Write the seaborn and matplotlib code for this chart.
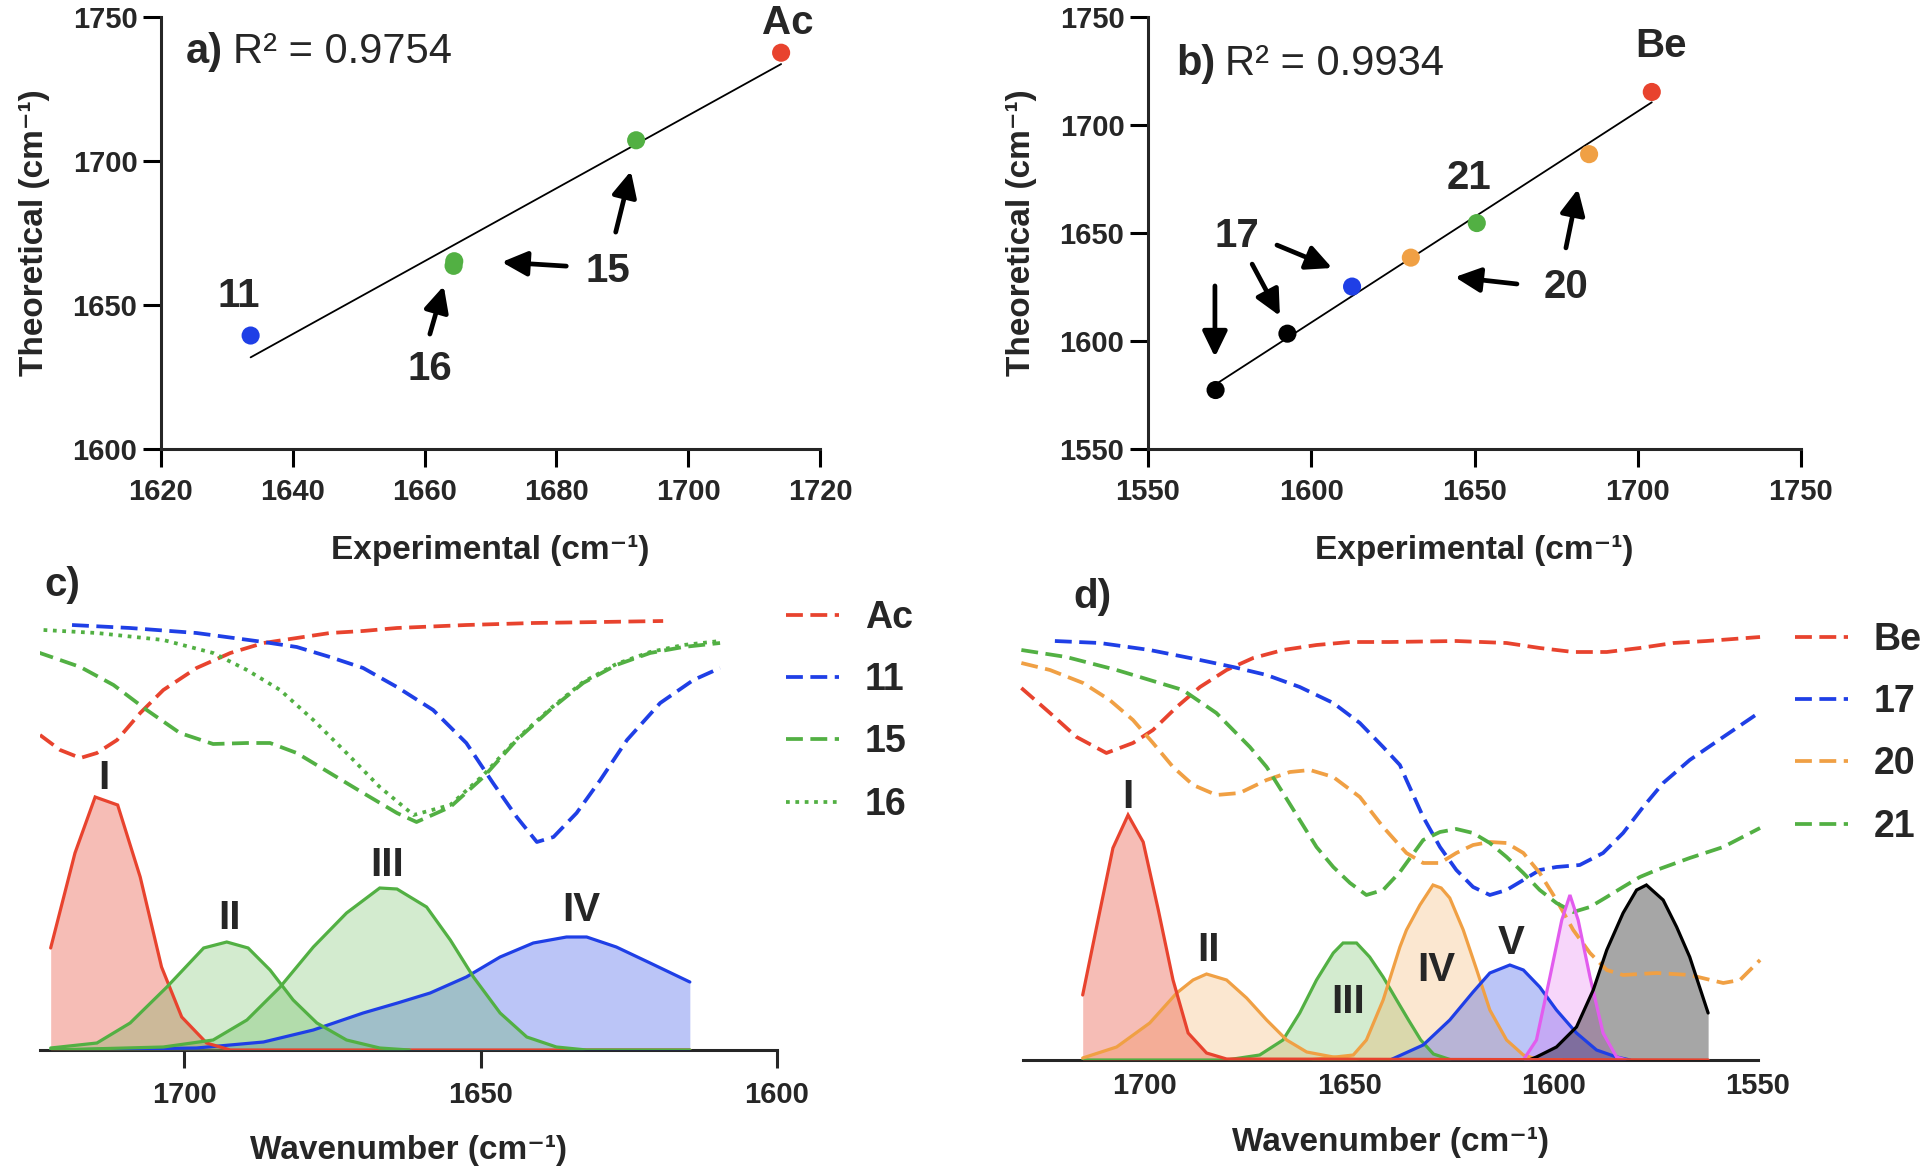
"""
IR carbonyl band assignment: theoretical vs experimental + deconvoluted spectra
"""
import numpy as np, matplotlib
matplotlib.use('Agg')
import matplotlib.pyplot as plt
import seaborn as sns

sns.set_theme(style='ticks')
plt.rcParams['font.family'] = ['Liberation Sans', 'DejaVu Sans']
plt.rcParams['font.weight'] = 'bold'
plt.rcParams['axes.labelweight'] = 'bold'

RED, BLUE, GREEN = '#E8432E', '#1F3FE6', '#52B043'
ORANGE, MAGENTA, BLACK = '#F0A044', '#E25CEE', '#000000'

# ── data: panel a (experimental vs theoretical) ──────────────────
A_NAMES = ['11', '16', '15b', '15a', 'Ac']
A_EXP   = [1633.6, 1664.4, 1664.5, 1692.1, 1714.1]
A_THEO  = [1639.4, 1663.6, 1665.2, 1707.2, 1737.6]
A_COLORS = [BLUE, GREEN, GREEN, GREEN, RED]

# ── data: panel b ────────────────────────────────────────────────
B_NAMES = ['17c', '17b', '17a', '20b', '21', '20a', 'Be']
B_EXP   = [1570.7, 1592.7, 1612.5, 1630.5, 1650.7, 1685.1, 1704.3]
B_THEO  = [1577.3, 1603.4, 1625.2, 1638.6, 1654.6, 1686.5, 1715.3]
B_COLORS = [BLACK, BLACK, BLUE, ORANGE, GREEN, ORANGE, RED]

# ── data: panel c, deconvoluted bands ────────────────────────────
C_I_X   = [1722.5, 1718.4, 1715.0, 1711.2, 1707.4, 1703.8, 1700.4, 1696.2, 1692.2, 1614.7]
C_I_Y   = [1.02, 1.97, 2.53, 2.45, 1.73, 0.83, 0.33, 0.07, 0.0, 0.0]
C_II_X  = [1722.5, 1714.7, 1709.1, 1702.9, 1696.7, 1692.8, 1689.2, 1685.5, 1681.6, 1677.6,
           1672.6, 1667.0, 1662.0]
C_II_Y  = [0.02, 0.07, 0.27, 0.63, 1.02, 1.08, 1.02, 0.80, 0.50, 0.27, 0.10, 0.02, 0.0]
C_III_X = [1722.5, 1703.5, 1695.1, 1689.4, 1683.8, 1678.2, 1672.6, 1667.0, 1664.1, 1659.1,
           1655.1, 1651.2, 1646.7, 1642.2, 1637.2, 1632.1, 1614.7]
C_III_Y = [0.0, 0.03, 0.10, 0.30, 0.63, 1.03, 1.37, 1.62, 1.61, 1.43, 1.10, 0.73, 0.37,
           0.13, 0.03, 0.0, 0.0]
C_IV_X  = [1722.5, 1697.9, 1686.6, 1678.2, 1669.8, 1664.0, 1658.5, 1652.4, 1646.7, 1641.1,
           1635.5, 1632.1, 1627.1, 1621.4, 1614.7]
C_IV_Y  = [0.0, 0.02, 0.08, 0.20, 0.37, 0.47, 0.57, 0.73, 0.93, 1.07, 1.13, 1.13, 1.03,
           0.87, 0.68]

# panel c, spectra (offset)
AC_X  = [1724.3, 1720.9, 1717.5, 1714.7, 1711.3, 1707.4, 1703.5, 1697.9, 1692.2, 1686.6,
         1681.0, 1675.4, 1669.8, 1664.1, 1652.4, 1641.1, 1629.8, 1619.2]
AC_Y  = [3.15, 3.00, 2.92, 2.97, 3.10, 3.37, 3.60, 3.82, 3.97, 4.07, 4.12, 4.17, 4.19, 4.22,
         4.25, 4.27, 4.28, 4.29]
S11_X = [1718.9, 1709.1, 1697.9, 1686.6, 1681.0, 1675.4, 1669.8, 1664.1, 1658.0, 1652.4,
         1647.9, 1643.9, 1640.5, 1637.7, 1633.8, 1629.8, 1625.3, 1619.7, 1614.1, 1609.6]
S11_Y = [4.25, 4.22, 4.17, 4.08, 4.03, 3.93, 3.82, 3.63, 3.40, 3.07, 2.67, 2.33, 2.08, 2.13,
         2.37, 2.70, 3.10, 3.47, 3.70, 3.82]
S15_X = [1724.8, 1717.5, 1711.9, 1706.3, 1700.7, 1695.1, 1689.4, 1685.5, 1681.0, 1675.4,
         1669.8, 1664.1, 1660.8, 1655.1, 1649.5, 1643.9, 1638.3, 1632.7, 1627.1, 1621.4,
         1615.8, 1609.6]
S15_Y = [3.98, 3.83, 3.65, 3.40, 3.17, 3.06, 3.07, 3.07, 2.97, 2.77, 2.57, 2.37, 2.28, 2.43,
         2.73, 3.10, 3.40, 3.67, 3.85, 3.97, 4.03, 4.07]
S16_X = [1723.7, 1714.7, 1703.5, 1695.1, 1689.4, 1683.8, 1678.2, 1672.6, 1667.0, 1661.3,
         1655.1, 1649.5, 1643.9, 1638.3, 1632.7, 1627.1, 1621.4, 1615.8, 1609.6]
S16_Y = [4.20, 4.17, 4.10, 3.97, 3.80, 3.60, 3.30, 2.97, 2.63, 2.35, 2.45, 2.75, 3.11, 3.41,
         3.68, 3.86, 3.98, 4.05, 4.09]

# ── data: panel d, deconvoluted bands ────────────────────────────
D_I_X   = [1715.2, 1711.8, 1707.8, 1704.1, 1700.4, 1696.7, 1693.1, 1689.4, 1684.9, 1680.0, 1562.2]
D_I_Y   = [0.65, 1.33, 2.12, 2.45, 2.18, 1.50, 0.80, 0.27, 0.07, 0.01, 0.0]
D_II_X  = [1715.2, 1706.9, 1698.8, 1692.2, 1688.2, 1684.9, 1680.0, 1675.1, 1670.2, 1665.3,
           1660.4, 1653.9, 1647.4]
D_II_Y  = [0.02, 0.13, 0.37, 0.67, 0.80, 0.86, 0.80, 0.62, 0.40, 0.20, 0.08, 0.03, 0.0]
D_III_X = [1715.2, 1680.0, 1671.9, 1666.2, 1662.1, 1658.0, 1653.9, 1651.5, 1648.2, 1645.0,
           1641.7, 1638.4, 1635.5, 1632.5, 1629.4, 1625.0]
D_III_Y = [0.0, 0.0, 0.05, 0.20, 0.47, 0.80, 1.07, 1.17, 1.17, 1.03, 0.83, 0.60, 0.40, 0.20,
           0.06, 0.0]
D_IV_X  = [1660.0, 1649.0, 1645.8, 1641.7, 1637.6, 1636.0, 1632.7, 1629.5, 1627.5, 1625.4,
           1622.1, 1618.8, 1615.6, 1611.5, 1607.4, 1603.4, 1598.0]
D_IV_Y  = [0.0, 0.05, 0.20, 0.60, 1.13, 1.30, 1.55, 1.75, 1.72, 1.62, 1.30, 0.90, 0.50, 0.20,
           0.05, 0.0, 0.0]
D_V_X   = [1640.0, 1631.9, 1625.4, 1619.7, 1615.6, 1610.7, 1607.4, 1603.4, 1599.3, 1594.4,
           1589.5, 1584.6, 1581.3]
D_V_Y   = [0.0, 0.15, 0.40, 0.68, 0.87, 0.95, 0.90, 0.73, 0.50, 0.27, 0.10, 0.03, 0.0]
D_VI_X  = [1607.4, 1604.2, 1600.9, 1598.0, 1596.0, 1594.0, 1591.1, 1587.9, 1584.6, 1582.2]
D_VI_Y  = [0.0, 0.20, 0.83, 1.40, 1.65, 1.40, 0.83, 0.27, 0.03, 0.0]
D_VII_X = [1606.0, 1604.2, 1599.3, 1594.4, 1590.3, 1587.0, 1583.0, 1579.7, 1577.3, 1573.2,
           1569.9, 1566.7, 1562.2]
D_VII_Y = [0.0, 0.03, 0.13, 0.33, 0.70, 1.10, 1.47, 1.70, 1.75, 1.60, 1.33, 1.03, 0.47]

# panel d, spectra (offset)
BE_X  = [1730.2, 1723.2, 1716.7, 1709.4, 1702.9, 1698.0, 1692.2, 1686.5, 1680.0, 1673.5,
         1666.2, 1658.0, 1649.8, 1640.1, 1623.8, 1611.5, 1603.4, 1595.2, 1587.0, 1578.9,
         1570.7, 1562.6, 1549.5]
BE_Y  = [3.72, 3.47, 3.23, 3.07, 3.17, 3.30, 3.53, 3.73, 3.90, 4.02, 4.10, 4.15, 4.18, 4.18,
         4.19, 4.17, 4.12, 4.08, 4.08, 4.12, 4.17, 4.19, 4.23]
S17_X = [1722.0, 1711.0, 1698.8, 1686.5, 1678.4, 1670.2, 1662.1, 1653.9, 1647.4, 1641.7,
         1637.6, 1636.0, 1631.9, 1627.8, 1623.8, 1619.7, 1615.6, 1611.5, 1607.4, 1603.4,
         1599.3, 1593.6, 1587.9, 1583.0, 1578.1, 1573.2, 1566.7, 1558.5, 1549.5]
S17_Y = [4.19, 4.17, 4.10, 4.00, 3.93, 3.85, 3.73, 3.57, 3.37, 3.13, 2.95, 2.80, 2.43, 2.13,
         1.90, 1.73, 1.65, 1.70, 1.80, 1.90, 1.93, 1.95, 2.07, 2.27, 2.53, 2.77, 3.00, 3.23, 3.48]
S20_X = [1730.2, 1723.2, 1715.1, 1708.6, 1702.9, 1698.0, 1693.1, 1688.2, 1682.5, 1676.8,
         1670.2, 1664.5, 1659.6, 1653.9, 1647.4, 1641.7, 1636.0, 1631.9, 1627.8, 1623.8,
         1619.7, 1615.6, 1611.5, 1607.4, 1603.4, 1599.3, 1595.2, 1591.1, 1587.0, 1583.0,
         1574.8, 1566.7, 1558.5, 1554.4, 1549.5]
S20_Y = [3.97, 3.90, 3.77, 3.60, 3.40, 3.17, 2.93, 2.75, 2.65, 2.67, 2.80, 2.88, 2.90, 2.83,
         2.63, 2.33, 2.07, 1.97, 1.97, 2.07, 2.15, 2.18, 2.17, 2.07, 1.87, 1.60, 1.30, 1.07,
         0.90, 0.85, 0.87, 0.85, 0.77, 0.80, 1.00]
S21_X = [1730.2, 1719.2, 1706.9, 1698.8, 1690.7, 1682.5, 1674.3, 1670.2, 1666.2, 1662.1,
         1658.0, 1653.9, 1649.8, 1645.8, 1641.7, 1637.6, 1631.9, 1627.8, 1623.8, 1619.7,
         1615.6, 1611.5, 1607.4, 1603.4, 1599.3, 1595.2, 1591.1, 1587.0, 1583.0, 1578.9,
         1574.8, 1566.7, 1558.5, 1549.5]
S21_Y = [4.10, 4.03, 3.90, 3.80, 3.70, 3.47, 3.13, 2.93, 2.67, 2.40, 2.13, 1.93, 1.77, 1.65,
         1.70, 1.88, 2.20, 2.28, 2.31, 2.27, 2.17, 2.03, 1.87, 1.70, 1.57, 1.48, 1.53, 1.63,
         1.73, 1.83, 1.90, 2.02, 2.13, 2.32]

DASH = (0, (4.5, 2))
DOT = (0, (1, 1.5))
SPEC_LW = 2.7
SPINE_W = 2.2
TICK_FS = 21

fig = plt.figure(figsize=(19.2, 11.76), dpi=100)
W, H = 1920., 1176.
def box(l, t, r, b):  # pixel box -> figure fraction
    return [l/W, 1-b/H, (r-l)/W, (b-t)/H]

ax_a = fig.add_axes(box(161, 17, 820, 449))
ax_b = fig.add_axes(box(1148, 17, 1801, 449))
ax_c = fig.add_axes(box(40, 600, 777, 1050))
ax_d = fig.add_axes(box(1023, 610, 1758, 1060))

# ── 1. correlation panels ────────────────────────────────────────
def corr_panel(ax, xs, ys, names, colors, xlim, ylim, xt, yt):
    sns.regplot(x=xs, y=ys, ax=ax, scatter=False, ci=None, truncate=True,
                color='black', line_kws={'lw': 1.3})
    sns.scatterplot(x=xs, y=ys, hue=names, palette=dict(zip(names, colors)),
                    s=170, linewidth=0, legend=False, ax=ax, zorder=3, clip_on=False)
    ax.set_xlim(xlim); ax.set_ylim(ylim)
    ax.set_xticks(xt); ax.set_yticks(yt)
    sns.despine(ax=ax)
    for s in ('left', 'bottom'): ax.spines[s].set_linewidth(SPINE_W)
    ax.tick_params(length=13, width=SPINE_W, labelsize=TICK_FS, color='black')
    ax.tick_params(axis='x', pad=8); ax.tick_params(axis='y', pad=4)
    ax.set_xlabel('Experimental (cm⁻¹)', fontsize=24, labelpad=21)
    ax.set_ylabel('Theoretical (cm⁻¹)', fontsize=24, labelpad=16)

corr_panel(ax_a, A_EXP, A_THEO, A_NAMES, A_COLORS, (1620, 1720), (1600, 1750),
           range(1620, 1721, 20), range(1600, 1751, 50))
corr_panel(ax_b, B_EXP, B_THEO, B_NAMES, B_COLORS, (1550, 1750), (1550, 1750),
           range(1550, 1751, 50), range(1550, 1751, 50))

ax_a.text(1623.8, 1737.8, 'a)', fontsize=30, va='center', ha='left')
ax_a.text(1631.0, 1737.8, 'R² = 0.9754', fontsize=30, fontweight='normal', va='center', ha='left')
ax_b.text(1558.6, 1728.2, 'b)', fontsize=30, va='center', ha='left')
ax_b.text(1573.6, 1728.2, 'R² = 0.9934', fontsize=30, fontweight='normal', va='center', ha='left')

arrow_kw = dict(arrowstyle='-|>,head_length=0.7,head_width=0.34', lw=3.4, color='black',
                mutation_scale=22, shrinkA=0, shrinkB=0)
for (tx, ty), (hx, hy) in [((1681.5, 1663.5), (1671.7, 1664.9)),
                           ((1689.0, 1675.3), (1691.3, 1696.5)),
                           ((1660.8, 1639.9), (1662.9, 1656.6))]:
    ax_a.annotate('', xy=(hx, hy), xytext=(tx, ty), arrowprops=arrow_kw)
for lab, (x, y) in [('Ac', (1715.1, 1747.9)), ('11', (1631.8, 1653.1)),
                    ('15', (1687.8, 1661.8)), ('16', (1660.8, 1627.8))]:
    ax_a.text(x, y, lab, fontsize=29, ha='center', va='center', clip_on=False)

for (tx, ty), (hx, hy) in [((1570.5, 1625.5), (1570.5, 1592.6)),
                           ((1581.9, 1635.6), (1590.4, 1611.6)),
                           ((1589.5, 1644.4), (1606.4, 1633.8)),
                           ((1663.0, 1626.4), (1644.0, 1629.6)),
                           ((1678.0, 1643.1), (1681.7, 1670.4))]:
    ax_b.annotate('', xy=(hx, hy), xytext=(tx, ty), arrowprops=arrow_kw)
for lab, (x, y) in [('Be', (1707.1, 1736.6)), ('21', (1648.3, 1675.5)),
                    ('17', (1577.3, 1648.6)), ('20', (1678.0, 1625.0))]:
    ax_b.text(x, y, lab, fontsize=29, ha='center', va='center')

# ── 2. spectra panels ────────────────────────────────────────────
def band(ax, xs, ys, color, alpha=0.3, lw=2.3):
    ax.fill_between(xs, 0, ys, color=color, alpha=alpha, lw=0, zorder=2)
    ax.plot(xs, ys, color=color, lw=lw, zorder=3, solid_joinstyle='miter')

def spectrum_axes(ax, xlim, xt, ticklen):
    ax.set_xlim(xlim); ax.set_ylim(0, 4.5)
    ax.set_xticks(xt); ax.set_yticks([])
    sns.despine(ax=ax, left=True)
    ax.spines['bottom'].set_linewidth(SPINE_W)
    ax.spines['bottom'].set_zorder(1)
    ax.tick_params(axis='x', length=ticklen, width=SPINE_W, labelsize=TICK_FS, pad=9)
    ax.set_xlabel('Wavenumber (cm⁻¹)', fontsize=24, labelpad=19)
    ax.patch.set_alpha(0)

def legend(ax, handles, x, top):
    ax.legend(handles=handles, loc='upper left', bbox_to_anchor=(x/W, 1-top/H),
              bbox_transform=fig.transFigure, frameon=False, borderpad=0, borderaxespad=0,
              handlelength=1.4, handletextpad=0.7, labelspacing=0.7, fontsize=27)

# c)
band(ax_c, C_IV_X, C_IV_Y, BLUE, alpha=0.3)
band(ax_c, C_I_X, C_I_Y, RED, alpha=0.35)
band(ax_c, C_II_X, C_II_Y, GREEN, alpha=0.25)
band(ax_c, C_III_X, C_III_Y, GREEN, alpha=0.25)
c_lines = [ax_c.plot(AC_X, AC_Y, color=RED, lw=SPEC_LW, ls=DASH, label='Ac')[0],
           ax_c.plot(S11_X, S11_Y, color=BLUE, lw=SPEC_LW, ls=DASH, label='11')[0],
           ax_c.plot(S15_X, S15_Y, color=GREEN, lw=SPEC_LW, ls=DASH, label='15')[0],
           ax_c.plot(S16_X, S16_Y, color=GREEN, lw=SPEC_LW, ls=DOT, label='16')[0]]
spectrum_axes(ax_c, (1724.3, 1600), [1700, 1650, 1600], 13)
for lab, (x, y) in [('I', (1713.5, 2.72)), ('II', (1692.4, 1.32)),
                    ('III', (1665.8, 1.85)), ('IV', (1633.0, 1.40))]:
    ax_c.text(x, y, lab, fontsize=29, ha='center', va='center')
legend(ax_c, c_lines, 786, 600)

# d)
band(ax_d, D_III_X, D_III_Y, GREEN, alpha=0.25)
band(ax_d, D_II_X, D_II_Y, ORANGE, alpha=0.25)
band(ax_d, D_IV_X, D_IV_Y, ORANGE, alpha=0.25)
band(ax_d, D_V_X, D_V_Y, BLUE, alpha=0.3)
band(ax_d, D_VI_X, D_VI_Y, MAGENTA, alpha=0.25)
band(ax_d, D_VII_X, D_VII_Y, BLACK, alpha=0.35)
band(ax_d, D_I_X, D_I_Y, RED, alpha=0.35)
d_lines = [ax_d.plot(BE_X, BE_Y, color=RED, lw=SPEC_LW, ls=DASH, label='Be', clip_on=False)[0],
           ax_d.plot(S17_X, S17_Y, color=BLUE, lw=SPEC_LW, ls=DASH, label='17', clip_on=False)[0],
           ax_d.plot(S20_X, S20_Y, color=ORANGE, lw=SPEC_LW, ls=DASH, label='20', clip_on=False)[0],
           ax_d.plot(S21_X, S21_Y, color=GREEN, lw=SPEC_LW, ls=DASH, label='21', clip_on=False)[0]]
spectrum_axes(ax_d, (1729.8, 1550), [1700, 1650, 1600, 1550], 0)
for lab, (x, y) in [('I', (1704.1, 2.63)), ('II', (1684.5, 1.10)), ('III', (1650.3, 0.58)),
                    ('IV', (1628.7, 0.90)), ('V', (1610.5, 1.17))]:
    ax_d.text(x, y, lab, fontsize=29, ha='center', va='center')
legend(ax_d, d_lines, 1795, 622)

fig.text(62/W, 1-585/H, 'c)', fontsize=29, ha='center', va='center')
fig.text(1092/W, 1-597/H, 'd)', fontsize=29, ha='center', va='center')

fig.savefig('out.png', dpi=100)
